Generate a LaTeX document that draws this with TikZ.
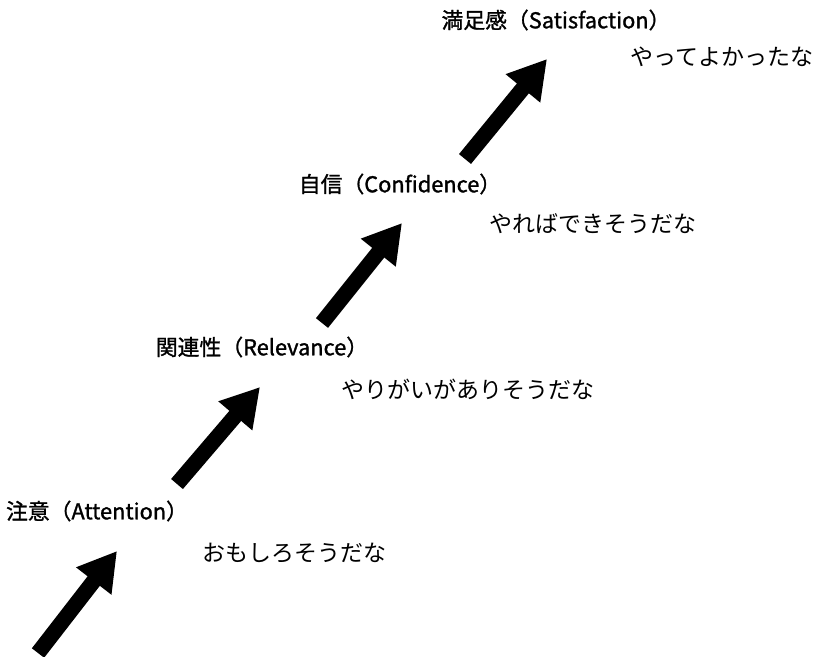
\documentclass[tikz,border=0pt]{standalone}
\usepackage{fontspec}
\newfontfamily\cjk{Noto Sans CJK JP}
\newfontfamily\cjkhead[FakeBold=1.3]{Noto Sans CJK JP}
\usetikzlibrary{arrows.meta}
\begin{document}
\begin{tikzpicture}[x=1pt,y=-1pt,
  head/.style={inner sep=0pt, font=\cjkhead\fontsize{21.8}{26}\selectfont},
  sub/.style={inner sep=0pt, font=\cjk\fontsize{23}{27}\selectfont},
  bigarrow/.style={line width=15.5pt, -{Triangle[length=38pt,width=42pt]}, black}]
\useasboundingbox (0,0) rectangle (821,656);
\node[head] (h4) at (556,20) {満足感（Satisfaction）};
\node[sub]  (s4) at (722,57) {やってよかったな};
\node[head] (h3) at (400,184) {自信（Confidence）};
\node[sub]  (s3) at (593,224) {やればできそうだな};
\node[head] (h2) at (262,347) {関連性（Relevance）};
\node[sub]  (s2) at (468,389) {やりがいがありそうだな};
\node[head] (h1) at (97,511) {注意（Attention）};
\node[sub]  (s1) at (294,553) {おもしろそうだな};
\coordinate (a1s) at (38,653);
\coordinate (a1e) at (117,551);
\coordinate (a2s) at (177,484);
\coordinate (a2e) at (260,387);
\coordinate (a3s) at (322,323);
\coordinate (a3e) at (402,223);
\coordinate (a4s) at (465,159);
\coordinate (a4e) at (547,59);
\draw[bigarrow] (a1s) -- (a1e);
\draw[bigarrow] (a2s) -- (a2e);
\draw[bigarrow] (a3s) -- (a3e);
\draw[bigarrow] (a4s) -- (a4e);
\end{tikzpicture}
\end{document}
